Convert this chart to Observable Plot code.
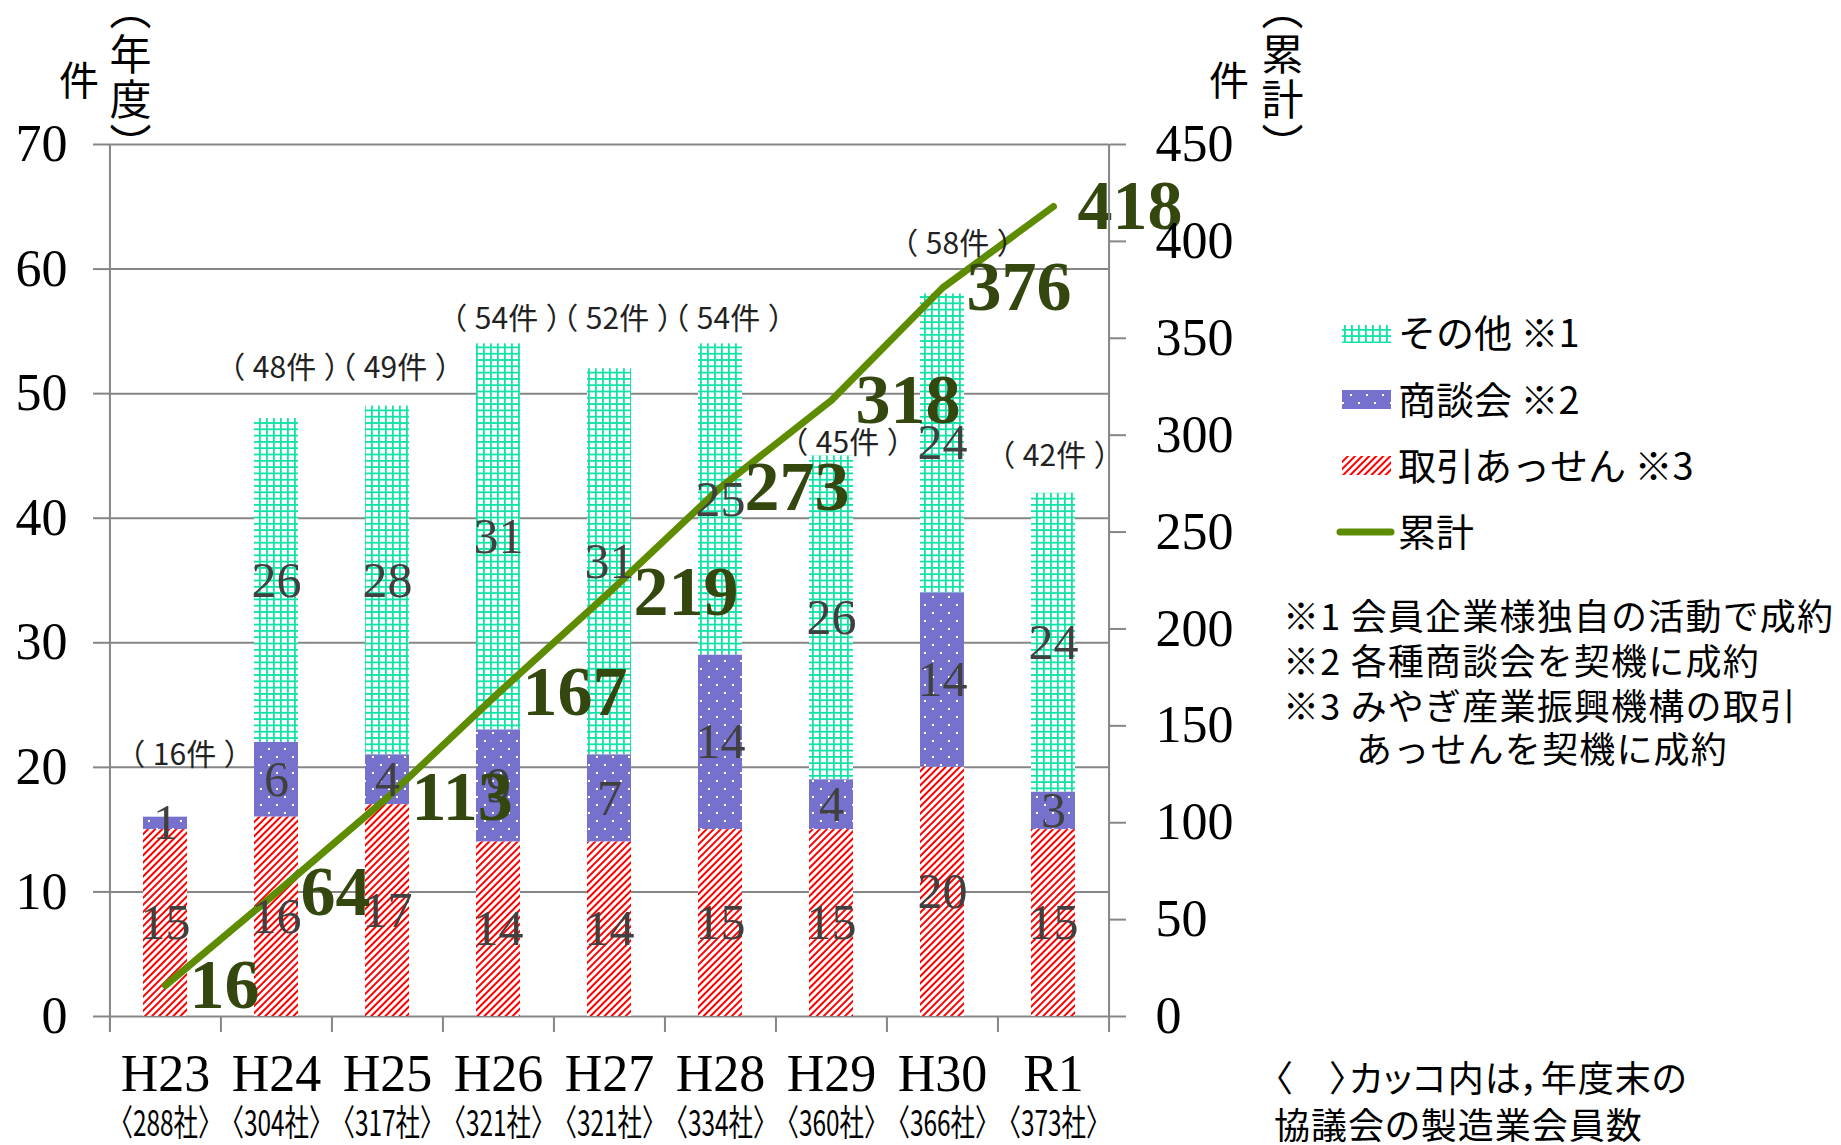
<!DOCTYPE html>
<html><head><meta charset="utf-8">
<script src="https://cdn.jsdelivr.net/npm/d3@7"></script>
<script src="https://cdn.jsdelivr.net/npm/@observablehq/plot@0.6"></script>
<style>
html,body{margin:0;padding:0;background:#fff;overflow:hidden;}
#wrap{position:relative;width:1841px;height:1145px;}
.abs{position:absolute;white-space:pre;color:#000;font-family:"Noto Sans CJK JP";line-height:1;}
.vert{position:absolute;white-space:pre;color:#000;font-family:"Noto Sans CJK JP";line-height:1;writing-mode:vertical-rl;}
</style></head><body><div id="wrap"></div>
<script>
// ---------- data ----------
const years = ["H23","H24","H25","H26","H27","H28","H29","H30","R1"];
const members = ["〈288社〉","〈304社〉","〈317社〉","〈321社〉","〈321社〉","〈334社〉","〈360社〉","〈366社〉","〈373社〉"];
const torihiki = [15,16,17,14,14,15,15,20,15];   // 取引あっせん ※3
const shodankai = [1,6,4,9,7,14,4,14,3];         // 商談会 ※2
const sonota = [0,26,28,31,31,25,26,24,24];      // その他 ※1
const cumulative = [16,64,113,167,219,273,318,376,418]; // 累計
const seriesNames = ["その他 ※1","商談会 ※2","取引あっせん ※3"];
const lineName = "累計";
const leftTicks = [0,10,20,30,40,50,60,70];
const rightTicks = [0,50,100,150,200,250,300,350,400,450];
const leftUnit = ["件", "（年度）"];
const rightUnit = ["件", "（累計）"];
const notes = ["※1 会員企業様独自の活動で成約","※2 各種商談会を契機に成約","※3 みやぎ産業振興機構の取引","あっせんを契機に成約"];
const footnote = ["〈\u3000〉カッコ内は，年度末の","協議会の製造業会員数"];

// ---------- layout (not data) ----------
const W = 1841, H = 1145;
const mL = 109, mR = W - 1109, mT = 144, mB = H - 1016;
const step = (W - mL - mR) / years.length;
const countLabelLift = [5,4,3,2,4,2,1,4,3];      // manual placement of （n件） labels, y units
const countLabelDx = [19,8,8,8,8,8,16,15,1];      // manual horizontal nudges, px
const leftMax = 70, rightMax = 450, k = leftMax / rightMax;
const GRID = "#868686";

// ---------- tables ----------
const seriesValues = [sonota, shodankai, torihiki];
const rows = [];
years.forEach((y, i) => seriesNames.forEach((s, j) => rows.push({year: y, series: s, value: seriesValues[j][i]})));
const stackOrder = [seriesNames[2], seriesNames[1], seriesNames[0]];
const totals = years.map((y, i) => torihiki[i] + shodankai[i] + sonota[i]);
const yearRows = years.map((y, i) => ({year: y, total: totals[i], cum: cumulative[i], lift: countLabelLift[i], dx: countLabelDx[i]}));

const serif = "Liberation Serif";
const sans = "Noto Sans CJK JP";

const countMarks = [...new Set(countLabelDx)].map(dx =>
  Plot.text(yearRows.filter(r => r.dx === dx), {x: "year", y: d => d.total + d.lift,
    text: d => `（\u2005${d.total}件\u2005）`, dx, fontSize: 30, fontFamily: sans, fill: "#222"}));

const chart = Plot.plot({
  width: W, height: H,
  marginLeft: mL, marginRight: mR, marginTop: mT, marginBottom: mB,
  style: {background: "#fff", color: "#000"},
  x: {domain: years, paddingInner: 0.6, paddingOuter: 0.3, axis: null},
  y: {domain: [0, leftMax], axis: null},
  color: {domain: seriesNames, range: ["url(#pGrid)", "url(#pDots)", "url(#pStripe)"]},
  marks: [
    Plot.gridY(leftTicks, {stroke: GRID, strokeOpacity: 1, strokeWidth: 2}),
    Plot.barY(rows, {x: "year", y: "value", fill: "series", z: "series", order: stackOrder}),
    Plot.line(yearRows, {x: "year", y: d => d.cum * k, stroke: "#5e8c00", strokeWidth: 7, strokeLinecap: "round", strokeLinejoin: "round"}),
    Plot.text(rows, Plot.stackY({x: "year", y: "value", z: "series", order: stackOrder,
      text: d => d.value > 0 ? String(d.value) : "", fill: "#404040", fontSize: 50, fontFamily: serif})),
    ...countMarks,
    Plot.text(yearRows, {x: "year", y: d => d.cum * k, text: d => String(d.cum), textAnchor: "start", dx: 24,
      fontSize: 70, fontWeight: "bold", fontFamily: serif, fill: "#33470f"}),
    // axes
    Plot.ruleX([years[0]], {dx: -step / 2, stroke: GRID, strokeWidth: 2, insetBottom: -16}),
    Plot.ruleX([years[years.length - 1]], {dx: step / 2, stroke: GRID, strokeWidth: 2, insetBottom: -16}),
    Plot.axisX(years, {anchor: "bottom", tickSize: 16, fill: "none", dx: -step / 2, stroke: GRID, strokeWidth: 2, label: null}),
    Plot.axisX(years, {anchor: "bottom", tickSize: 0, tickPadding: 38, fontSize: 52, fontFamily: serif, fill: "#000", label: null}),
    Plot.axisX(years, {anchor: "bottom", tickSize: 0, tickPadding: 94, tickFormat: d => members[years.indexOf(d)],
      fontSize: 36, fontFamily: sans, fill: "#000", label: null}),
    Plot.axisY(leftTicks, {anchor: "left", tickSize: 16, tickPadding: 26, fontSize: 52, fontFamily: serif,
      stroke: GRID, strokeWidth: 2, fill: "#000", label: null}),
    Plot.axisY(rightTicks.map(v => v * k), {anchor: "right", tickSize: 16, tickPadding: 30,
      tickFormat: v => String(Math.round(v / k)), fontSize: 52, fontFamily: serif,
      stroke: GRID, strokeWidth: 2, fill: "#000", label: null})
  ]
});

const patternDefs = (p) => `
  <pattern id="${p}Grid" patternUnits="userSpaceOnUse" width="7" height="6.3">
    <rect width="7" height="6.3" fill="#fff"/>
    <rect x="0" y="0" width="1.8" height="6.3" fill="#12e2a6"/>
    <rect x="0" y="0" width="7" height="1.8" fill="#12e2a6"/>
  </pattern>
  <pattern id="${p}Dots" patternUnits="userSpaceOnUse" width="16" height="16">
    <rect width="16" height="16" fill="#7571cd"/>
    <rect x="4" y="4" width="2" height="2" fill="#fff"/>
    <rect x="12" y="12" width="2" height="2" fill="#fff"/>
  </pattern>
  <pattern id="${p}Stripe" patternUnits="userSpaceOnUse" width="5" height="5" patternTransform="rotate(45)">
    <rect width="5" height="5" fill="#fff"/>
    <rect x="0" y="0" width="2" height="5" fill="#ff0000"/>
  </pattern>`;

d3.select(chart).insert("defs", ":first-child").html(patternDefs("p"));
d3.select(chart).selectAll("text").filter(function() { return /社/.test(this.textContent); })
  .attr("textLength", 114).attr("lengthAdjust", "spacingAndGlyphs");

const wrap = document.getElementById("wrap");
wrap.appendChild(chart);
chart.style.position = "absolute"; chart.style.left = "0"; chart.style.top = "0";

function label(txt, x, cy, size, extra = {}) {
  const d = document.createElement("div");
  d.className = "abs";
  d.textContent = txt;
  d.style.fontSize = size + "px";
  d.style.left = x + "px";
  d.style.top = (cy - size * 0.55) + "px";
  Object.assign(d.style, extra);
  wrap.appendChild(d);
  return d;
}
function centered(txt, cx, cy, size) {
  const d = label(txt, cx, cy, size);
  d.style.transform = "translateX(-50%)";
  return d;
}
function vertical(txt, cx, top, size) {
  const d = document.createElement("div");
  d.className = "vert";
  d.textContent = txt;
  d.style.fontSize = size + "px";
  d.style.left = (cx - size / 2) + "px";
  d.style.top = top + "px";
  d.style.letterSpacing = "3px";
  wrap.appendChild(d);
}
// unit labels
centered(leftUnit[0], 79, 80, 40);
vertical(leftUnit[1], 130, -12, 42);
centered(rightUnit[0], 1229, 80, 40);
vertical(rightUnit[1], 1282, -12, 42);

// legend
const lg = document.createElement("div");
lg.innerHTML = `<svg width="80" height="240" style="position:absolute;left:1330px;top:310px">
  <defs>${patternDefs("lg")}</defs>
  <rect x="12" y="15" width="49" height="18" fill="url(#lgGrid)"/>
  <rect x="12" y="80" width="49" height="19" fill="url(#lgDots)"/>
  <rect x="12" y="146" width="49" height="19" fill="url(#lgStripe)"/>
  <line x1="10" x2="61" y1="222" y2="222" stroke="#5e8c00" stroke-width="7" stroke-linecap="round"/>
</svg>`;
wrap.appendChild(lg);
const legendNames = [...seriesNames, lineName];
legendNames.forEach((n, i) => label(n, 1398, [333, 400, 466, 532][i], 38));

// notes
notes.forEach((n, i) => label(n, i === 3 ? 1356 : 1283, [616, 661, 706, 749][i], 36, {letterSpacing: "1.2px"}));
footnote.forEach((n, i) => label(n, 1274, [1078, 1125][i], 36, {fontFeatureSettings: '"palt"', letterSpacing: "1px"}));
</script></body></html>
